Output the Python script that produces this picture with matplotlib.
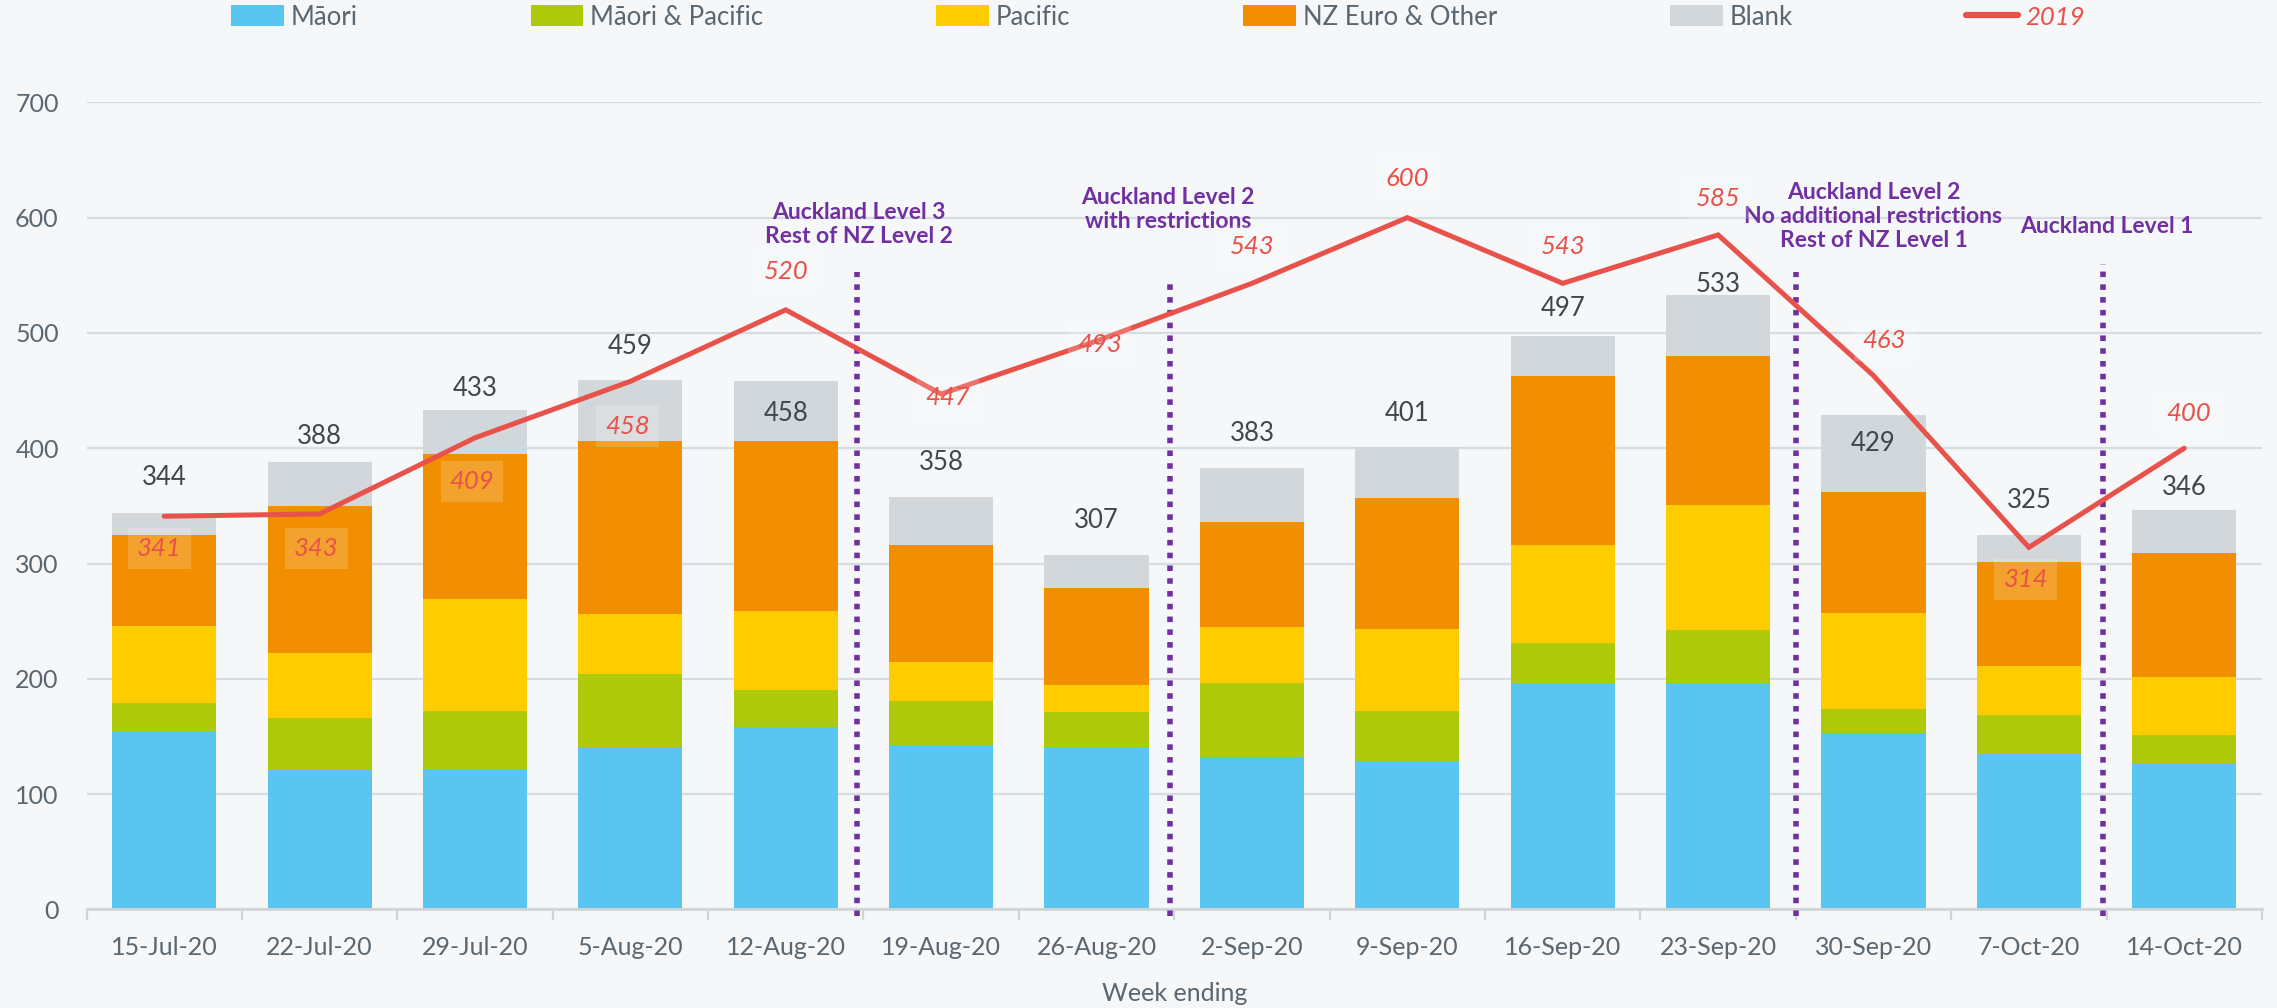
import matplotlib
matplotlib.use("Agg")
import matplotlib.pyplot as plt
from matplotlib.patches import Patch
from matplotlib.lines import Line2D
import numpy as np

plt.rcParams['font.family'] = ['Lato', 'DejaVu Sans']

# data
weeks = ["15-Jul-20", "22-Jul-20", "29-Jul-20", "5-Aug-20", "12-Aug-20", "19-Aug-20",
         "26-Aug-20", "2-Sep-20", "9-Sep-20", "16-Sep-20", "23-Sep-20", "30-Sep-20",
         "7-Oct-20", "14-Oct-20"]
maori = [155, 121, 122, 140, 158, 143, 141, 132, 129, 196, 196, 153, 135, 126]
maori_pacific = [24, 45, 50, 64, 32, 38, 30, 64, 43, 35, 46, 21, 34, 25]
pacific = [67, 56, 97, 52, 69, 34, 24, 49, 71, 85, 109, 83, 42, 51]
nz_euro = [79, 128, 126, 150, 147, 101, 84, 91, 114, 147, 129, 105, 90, 107]
blank = [19, 38, 38, 53, 52, 42, 28, 47, 44, 34, 53, 67, 24, 37]
totals = [344, 388, 433, 459, 458, 358, 307, 383, 401, 497, 533, 429, 325, 346]
y2019 = [341, 343, 409, 458, 520, 447, 493, 543, 600, 543, 585, 463, 314, 400]

events = ["Auckland Level 3\nRest of NZ Level 2",
          "Auckland Level 2\nwith restrictions",
          "Auckland Level 2\nNo additional restrictions\nRest of NZ Level 1",
          "Auckland Level 1"]

series = [("Māori", maori, "#5BC5F2"),
          ("Māori & Pacific", maori_pacific, "#AFCA0B"),
          ("Pacific", pacific, "#FFCC00"),
          ("NZ Euro & Other", nz_euro, "#F18F00"),
          ("Blank", blank, "#D2D7DB")]

# label / marker placement (layout, not data)
total_dy = [31, 22, 19, 29, -28, 30, 30, 30, 29, 24, 9, -25, 30, 20]
line_dy = [-28, -30, -38, -39, 33, -3, -3, 32, 34, 32, 32, 30, -28, 30]
line_dx = [-0.03, -0.02, -0.02, -0.02, 0, 0.04, 0.02, 0, 0, 0, 0, 0.07, -0.02, 0.03]
event_x = [4.46, 6.47, 10.5, 12.48]
event_top = [553, 546, 553, 560]
event_txt_xy = [(4.47, 594), (6.46, 607), (11.0, 601), (12.5, 592)]

bg = "#F5F7F9"
grey_txt = "#5A6670"
red = "#E8524A"
purple = "#7030A0"

fig = plt.figure(figsize=(22.77, 10.08), dpi=100, facecolor=bg)
ax = fig.add_axes([0.038, 0.0978, 0.9554, 0.8007], facecolor=bg)

x = np.arange(len(weeks))
bottom = np.zeros(len(weeks))
for name, vals, col in series:
    ax.bar(x, vals, 0.67, bottom=bottom, color=col, zorder=2)
    bottom += np.array(vals)

for i, t in enumerate(totals):
    ax.text(x[i], t + total_dy[i], str(t), ha="center", va="center",
            fontsize=18.5, color="#3F474D", zorder=6)

for xe, top in zip(event_x, event_top):
    ax.plot([xe, xe], [-6, top], color=purple, lw=4, linestyle=(0, (1, 1.3)),
            dash_capstyle="butt", clip_on=False, zorder=4)
for txt, (tx, ty) in zip(events, event_txt_xy):
    ax.text(tx, ty, txt, ha="center", va="center", fontsize=16.5,
            fontweight="bold", color=purple, linespacing=1.15, zorder=6)

ax.plot(x, y2019, color=red, lw=3.6, solid_capstyle="round",
        solid_joinstyle="miter", zorder=5)
for i, v in enumerate(y2019):
    ax.text(x[i] + line_dx[i], v + line_dy[i], str(v), ha="center", va="center",
            fontsize=18.5, style="italic", color=red, zorder=7,
            bbox=dict(boxstyle="square,pad=0.35", fc="white", ec="none", alpha=0.18))

ax.set_xlim(-0.5, len(weeks) - 0.5)
ax.set_ylim(0, 700)
ax.set_yticks(range(0, 701, 100))
ax.yaxis.grid(True, color="#D6DCDF", lw=1.6, zorder=0)
ax.set_axisbelow(True)
ax.tick_params(axis="y", length=0, pad=20, labelsize=18, labelcolor=grey_txt)

ax.set_xticks(np.arange(-0.5, len(weeks), 1.0))
ax.set_xticklabels([])
ax.tick_params(axis="x", which="major", length=8, width=1.6, color="#D0D5D8")
ax.set_xticks(x, minor=True)
ax.set_xticklabels(weeks, minor=True)
ax.tick_params(axis="x", which="minor", length=0, pad=19, labelsize=18,
               labelcolor=grey_txt)

for s in ["top", "right", "left"]:
    ax.spines[s].set_visible(False)
ax.spines["bottom"].set_color("#D0D5D8")
ax.spines["bottom"].set_linewidth(2)

ax.set_xlabel("Week ending", fontsize=18, color=grey_txt, va="center")
ax.xaxis.set_label_coords(0.5, -0.1036)

handles = [Patch(facecolor=c, edgecolor="none") for _, _, c in series]
handles.append(Line2D([0], [0], color=red, lw=4.5, solid_capstyle="round"))
labels = [n for n, _, _ in series] + ["2019"]
leg = fig.legend(handles, labels, loc="center", bbox_to_anchor=(0.5086, 0.983),
                 ncol=6, frameon=False, fontsize=18.5, handlelength=2.05,
                 handleheight=0.85, handletextpad=0.28, columnspacing=6.72,
                 borderpad=0)
for t in leg.get_texts():
    t.set_color(grey_txt)
leg.get_texts()[-1].set_color(red)
leg.get_texts()[-1].set_style("italic")

fig.savefig("out.png", dpi=100, facecolor=bg)
